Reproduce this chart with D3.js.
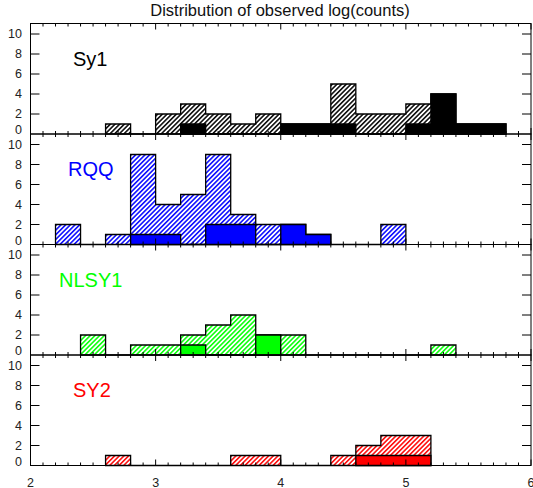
<!DOCTYPE html>
<html>
<head>
<meta charset="utf-8">
<script src="https://cdn.jsdelivr.net/npm/d3@7"></script>
<style>
  body { margin: 0; background: #fff; }
  svg { display: block; font-family: "Liberation Sans", Arial, sans-serif; }
</style>
</head>
<body>
<svg id="chart" width="533" height="488"></svg>
<script>
// bordas das classes do histograma (log counts)
const binEdges = [2.0, 2.2, 2.4, 2.6, 2.8, 3.0, 3.2, 3.4, 3.6, 3.8, 4.0,
                  4.2, 4.4, 4.6, 4.8, 5.0, 5.2, 5.4, 5.6, 5.8, 6.0];

// contagens por classe: amostra total (hachurado) e subamostra (sólido)
const sy1All   = [0, 0, 0, 1, 0, 2, 3, 2, 1, 2, 1, 1, 5, 2, 2, 3, 4, 1, 1, 0];
const sy1Sub   = [0, 0, 0, 0, 0, 0, 1, 0, 0, 0, 1, 1, 1, 0, 0, 1, 4, 1, 1, 0];
const rqqAll   = [0, 2, 0, 1, 9, 4, 5, 9, 3, 2, 2, 1, 0, 0, 2, 0, 0, 0, 0, 0];
const rqqSub   = [0, 0, 0, 0, 1, 1, 0, 2, 2, 0, 2, 1, 0, 0, 0, 0, 0, 0, 0, 0];
const nlsy1All = [0, 0, 2, 0, 1, 1, 2, 3, 4, 2, 2, 0, 0, 0, 0, 0, 1, 0, 0, 0];
const nlsy1Sub = [0, 0, 0, 0, 0, 0, 1, 0, 0, 2, 0, 0, 0, 0, 0, 0, 0, 0, 0, 0];
const sy2All   = [0, 0, 0, 1, 0, 0, 0, 0, 1, 1, 0, 0, 1, 2, 3, 3, 0, 0, 0, 0];
const sy2Sub   = [0, 0, 0, 0, 0, 0, 0, 0, 0, 0, 0, 0, 0, 1, 1, 1, 0, 0, 0, 0];

const panelNames  = ["Sy1", "RQQ", "NLSY1", "SY2"];
const panelColors = ["#000000", "#0000ff", "#00ff00", "#ff0000"];
const panelAll    = [sy1All, rqqAll, nlsy1All, sy2All];
const panelSub    = [sy1Sub, rqqSub, nlsy1Sub, sy2Sub];
const labelX      = [73, 68, 59, 73];

const yTicks = [0, 2, 4, 6, 8, 10];
const xTicks = [2, 3, 4, 5, 6];
const title = "Distribution of observed log(counts)";

const svg = d3.select("#chart");
const left = 30.5, right = 531, top0 = 23.5, panelH = 110.5;

const x = d3.scaleLinear().domain([2, 6]).range([left, right]);

svg.append("text")
  .attr("x", 280).attr("y", 16)
  .attr("text-anchor", "middle")
  .attr("font-size", 16.5)
  .attr("fill", "#111")
  .text(title);

// padrões de hachura, um por cor
const defs = svg.append("defs");
panelColors.forEach((c, i) => {
  const p = defs.append("pattern")
    .attr("id", "hatch" + i)
    .attr("patternUnits", "userSpaceOnUse")
    .attr("width", 3.3).attr("height", 3.3)
    .attr("patternTransform", "rotate(45)");
  p.append("line")
    .attr("x1", 0.8).attr("y1", 0).attr("x2", 0.8).attr("y2", 3.3)
    .attr("stroke", c).attr("stroke-width", 1.5);
});

function stepPoints(vals) {
  const nz = vals.map((v, i) => v > 0 ? i : -1).filter(i => i >= 0);
  const a = nz[0], b = nz[nz.length - 1];
  const pts = [[binEdges[a], 0]];
  for (let i = a; i <= b; i++) pts.push([binEdges[i], vals[i]]);
  pts.push([binEdges[b + 1], vals[b]]);
  pts.push([binEdges[b + 1], 0]);
  return pts;
}

panelNames.forEach((name, i) => {
  const top = top0 + i * panelH, bottom = top + panelH;
  const y = d3.scaleLinear().domain([0, 11.05]).range([bottom, top]);
  const g = svg.append("g");

  const line = d3.line()
    .x(d => x(d[0])).y(d => y(d[1]))
    .curve(d3.curveStepAfter);

  g.append("path")
    .attr("d", line(stepPoints(panelAll[i])) + "Z")
    .attr("fill", `url(#hatch${i})`)
    .attr("stroke", "#000")
    .attr("stroke-width", 1.3);

  g.append("path")
    .attr("d", line(stepPoints(panelSub[i])) + "Z")
    .attr("fill", panelColors[i])
    .attr("stroke", "#000")
    .attr("stroke-width", 1.3);

  // moldura
  g.append("rect")
    .attr("x", left).attr("y", top)
    .attr("width", right - left).attr("height", panelH)
    .attr("fill", "none").attr("stroke", "#000").attr("stroke-width", 1);

  // eixo y (ticks para dentro dos dois lados)
  yTicks.forEach(t => {
    if (t === 0) return;
    g.append("line").attr("x1", left).attr("x2", left + 9)
      .attr("y1", y(t)).attr("y2", y(t)).attr("stroke", "#000");
    g.append("line").attr("x1", right - 9).attr("x2", right)
      .attr("y1", y(t)).attr("y2", y(t)).attr("stroke", "#000");
  });
  yTicks.forEach(t => {
    g.append("text")
      .attr("x", 22).attr("y", Math.min(y(t), bottom - 4))
      .attr("text-anchor", "end")
      .attr("dominant-baseline", "central")
      .attr("font-size", 12.5).attr("fill", "#222")
      .text(t);
  });

  // eixo x: ticks maiores a cada 1 e menores a cada 0.1
  for (let k = 0; k <= 40; k++) {
    const v = 2 + k * 0.1;
    const len = k % 10 === 0 ? 6 : 3;
    g.append("line").attr("x1", x(v)).attr("x2", x(v))
      .attr("y1", bottom).attr("y2", bottom - len).attr("stroke", "#000");
    g.append("line").attr("x1", x(v)).attr("x2", x(v))
      .attr("y1", top).attr("y2", top + len).attr("stroke", "#000");
  }

  g.append("text")
    .attr("x", labelX[i]).attr("y", top + 42)
    .attr("font-size", 20)
    .attr("fill", panelColors[i])
    .text(name);
});

const bottomAll = top0 + 4 * panelH;
xTicks.forEach(t => {
  svg.append("text")
    .attr("x", x(t)).attr("y", bottomAll + 21)
    .attr("text-anchor", "middle")
    .attr("font-size", 12.5).attr("fill", "#222")
    .text(t);
});
</script>
</body>
</html>
